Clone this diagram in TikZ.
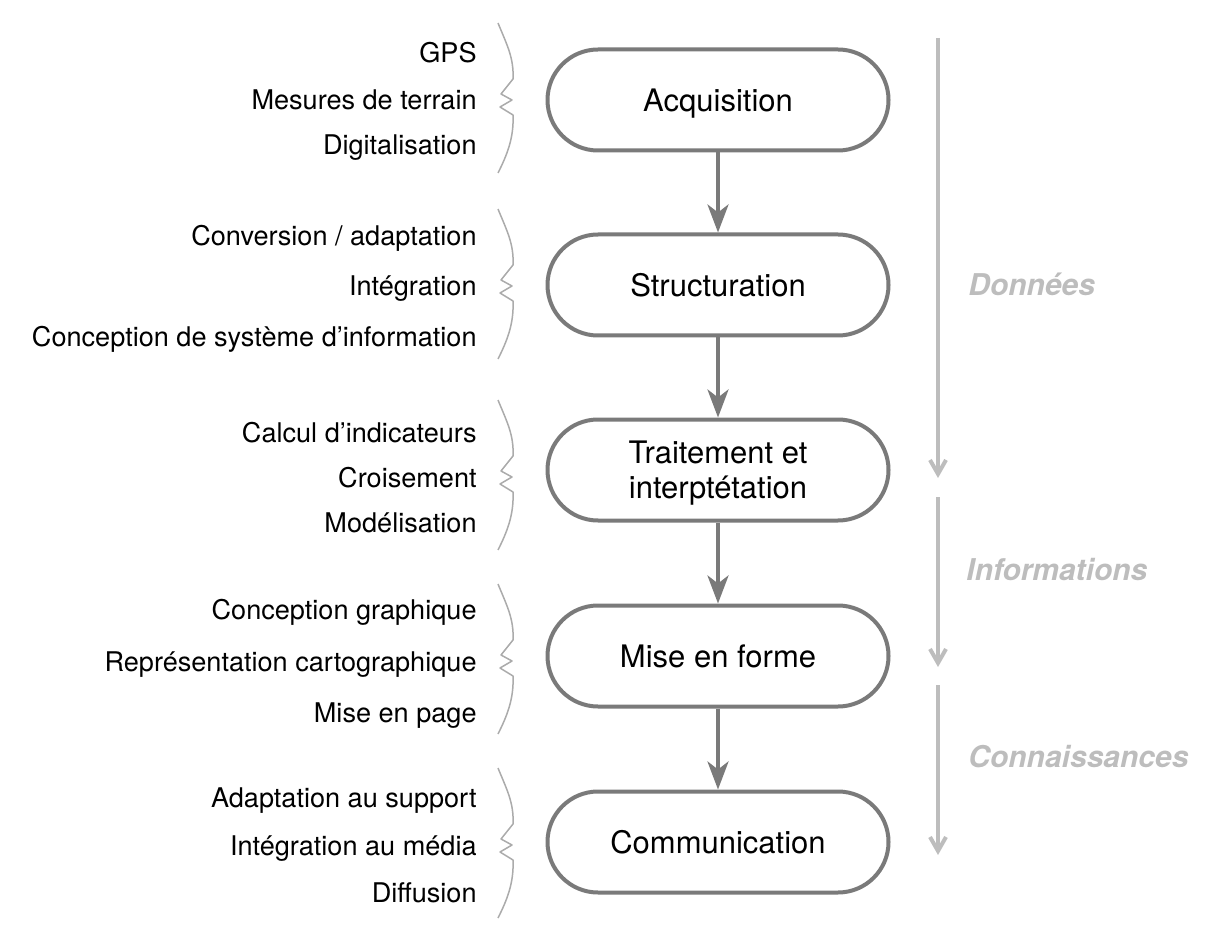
\documentclass[tikz,border=0pt]{standalone}
\usepackage{fontspec}
\setmainfont{TeX Gyre Heros}
\usetikzlibrary{arrows.meta}
\definecolor{boxgray}{HTML}{7A7A7A}
\definecolor{lightg}{HTML}{BDBDBD}
\definecolor{braceg}{HTML}{ABABAB}
\begin{document}
\begin{tikzpicture}[x=0.5pt,y=-0.5pt,
  stagebox/.style={draw=boxgray, line width=2pt, fill=white,
    minimum width=170.5pt, minimum height=50.5pt, rounded corners=25.25pt,
    inner sep=0pt, font=\fontsize{15.5}{17.5}\selectfont},
  oneline/.style={text height=11.1pt, text depth=0pt},
  item/.style={anchor=base east, inner sep=0pt, font=\fontsize{13.55}{16}\selectfont},
  phase/.style={anchor=base west, inner sep=0pt, text=lightg,
    font=\fontsize{15}{18}\selectfont\bfseries\itshape},
  flow/.style={draw=boxgray, line width=2pt,
    -{Stealth[length=14pt,width=10.5pt,inset=4pt]}},
  stagearrow/.style={draw=lightg, line width=2pt,
    -{Straight Barb[length=7pt,width=8pt]}},
  zbrace/.pic={\draw[braceg, line width=0.75pt, line join=round]
    (498,-77) .. controls (507,-55) and (514,-42) .. (513,-21)
    -- (501,-6) -- (512,0) -- (500,7) -- (513,15)
    .. controls (514,38) and (507,55) .. (498,73);}
]
\useasboundingbox (0,0) rectangle (1220,946);

% stages
\node[stagebox, oneline] (acq) at (718,100) {Acquisition};
\node[stagebox, oneline] (str) at (718,285) {Structuration};
\node[stagebox, text depth=0pt, align=center] (tra) at (718,470) {Traitement et\\interptétation};
\node[stagebox, oneline] (mef) at (718,656) {Mise en forme};
\node[stagebox, oneline] (com) at (718,842) {Communication};

\draw[flow] (acq) -- (str);
\draw[flow] (str) -- (tra);
\draw[flow] (tra) -- (mef);
\draw[flow] (mef) -- (com);

% braces
\pic at (0,100) {zbrace};
\pic at (0,286) {zbrace};
\pic at (0,477) {zbrace};
\pic at (0,661) {zbrace};
\pic at (0,845) {zbrace};

% left items
\node[item] (g1a) at (477,63) {GPS};
\node[item] (g1b) at (477,110) {Mesures de terrain};
\node[item] (g1c) at (477,155) {Digitalisation};
\node[item] (g2a) at (477,246) {Conversion / adaptation};
\node[item] (g2b) at (477,296) {Intégration};
\node[item] (g2c) at (477,347) {Conception de système d’information};
\node[item] (g3a) at (477,442) {Calcul d’indicateurs};
\node[item] (g3b) at (477,487) {Croisement};
\node[item] (g3c) at (477,532) {Modélisation};
\node[item] (g4a) at (477,619) {Conception graphique};
\node[item] (g4b) at (477,671) {Représentation cartographique};
\node[item] (g4c) at (477,722) {Mise en page};
\node[item] (g5a) at (477,807) {Adaptation au support};
\node[item] (g5b) at (477,855) {Intégration au média};
\node[item] (g5c) at (477,902) {Diffusion};

% right phase arrows
\coordinate (r1s) at (938,38);
\coordinate (r1e) at (938,478);
\coordinate (r2s) at (938,497);
\coordinate (r2e) at (938,667);
\coordinate (r3s) at (938,685);
\coordinate (r3e) at (938,855);
\draw[stagearrow] (r1s) -- (r1e);
\draw[stagearrow] (r2s) -- (r2e);
\draw[stagearrow] (r3s) -- (r3e);

\node[phase] (pd) at (968,296) {Données};
\node[phase] (pi) at (966,580) {Informations};
\node[phase] (pc) at (968,767) {Connaissances};
\end{tikzpicture}
\end{document}
